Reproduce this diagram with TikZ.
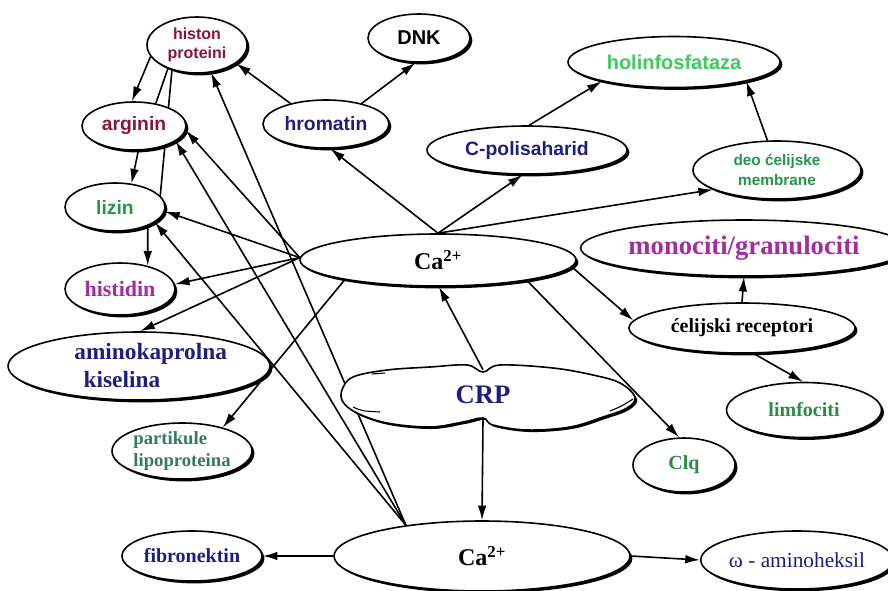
\documentclass[tikz,border=0pt]{standalone}
\usepackage{fontspec}
\setmainfont{Liberation Serif}
\setsansfont{Liberation Sans}
\usetikzlibrary{shapes.geometric,arrows.meta,shadows,backgrounds}
\definecolor{dred}{HTML}{8A1538}
\definecolor{mynavy}{HTML}{1E1E82}
\definecolor{hgreen}{HTML}{3CCB5C}
\definecolor{dgreen}{HTML}{24964A}
\definecolor{mgreen}{HTML}{2A8C45}
\definecolor{purp}{HTML}{A22CA2}
\definecolor{teal2}{HTML}{357A60}
\newcommand{\myfs}[2]{\fontsize{#1}{#2}\selectfont}
\begin{document}
\begin{tikzpicture}[x=0.75pt,y=-0.75pt,
  el/.style 2 args={ellipse, draw=black, line width=1.2pt, fill=white, inner sep=0pt,
    minimum width=#1*0.75pt, minimum height=#2*0.75pt,
    drop shadow={shadow xshift=1.8pt, shadow yshift=-1.8pt, fill=black, opacity=1}},
  sfb/.style={font=\sffamily\bfseries\myfs{#1}{#1}},
  rmb/.style={font=\rmfamily\bfseries\myfs{#1}{#1}},
  arr/.style={-{Latex[length=11pt,width=6.5pt]}, line width=1.2pt},
  ln/.style={line width=1.2pt}]
\useasboundingbox (0,0) rectangle (888,590);

% nodes
\node[el={100}{56}, text=dred, font=\sffamily\bfseries\myfs{12}{14}, align=center] (hist) at (197,45) {histon\\proteini};
\node[el={102}{48}, sfb=15] (dnk) at (419,38) {DNK};
\node[el={212}{51}, text=hgreen, sfb=15] (holin) at (674,62) {holinfosfataza};
\node[el={104}{48}, text=dred, sfb=14.5] (arg) at (134,126) {arginin};
\node[el={126}{48}, text=mynavy, sfb=14.5] (hrom) at (326,124) {hromatin};
\node[el={200}{48}, text=mynavy, sfb=14.5] (cpol) at (527,150) {C-polisaharid};
\node[el={168}{58}, text=dgreen, font=\sffamily\bfseries\myfs{11.5}{15}, align=center] (deo) at (777,170) {deo ćelijske\\membrane};
\node[el={100}{48}, text=dgreen, sfb=14.5] (liz) at (115,207) {lizin};
\node[el={276}{52}, rmb=18] (cau) at (438,260) {Ca\textsuperscript{2+}};
\node[el={288}{56}, text=purp, rmb=20] (mono) at (744,248) {monociti/granulociti};
\node[el={110}{52}, text=purp, rmb=16.5] (hisd) at (120,289) {histidin};
\node[el={226}{50}, rmb=15] (celr) at (742,328) {ćelijski receptori};
\node[el={262}{68}, text=mynavy, font=\rmfamily\bfseries\myfs{17.5}{21}, align=left] (amk) at (139,366) {\hspace*{1em}aminokaprolna\\\hspace*{1.4em}kiselina};
\node[el={155}{55}, text=mgreen, rmb=15] (limf) at (804,410) {limfociti};
\node[el={140}{52}, text=teal2, font=\rmfamily\bfseries\myfs{14}{17}, align=left] (part) at (182,451) {partikule\\lipoproteina};
\node[el={102}{54}, text=mgreen, rmb=15] (clq) at (684,465) {Clq};
\node[el={296}{70}, rmb=18] (cal) at (482,556) {Ca\textsuperscript{2+}};
\node[el={140}{50}, text=mynavy, rmb=15] (fib) at (192,556) {fibronektin};
\node[el={180}{58}, text=mynavy, font=\rmfamily\myfs{16}{16}] (omega) at (797,560) {ω - aminoheksil};

% CRP cloud
\draw[line width=1.2pt, fill=white, drop shadow={shadow xshift=1.5pt, shadow yshift=-1.5pt, fill=black, opacity=1}]
  plot[smooth cycle, tension=0.6] coordinates {
  (342,390) (353,377) (387,370) (430,367) (467,365) (483,372) (500,365)
  (553,368) (593,375) (620,383) (635,397) (627,408) (603,417) (570,427)
  (527,430) (493,425) (483,418) (463,422) (430,427) (387,423) (357,413) (343,402)};
\draw[line width=0.8pt] (353,407) .. controls (362,411) .. (380,412);
\draw[line width=0.8pt] (372,374) -- (385,373);
\draw[line width=0.8pt] (610,411) .. controls (622,406) .. (633,399);
\node[ellipse, minimum width=294*0.75pt, minimum height=50*0.75pt, inner sep=0pt,
  text=mynavy, rmb=20] (crp) at (483,395) {CRP};

% edges
\begin{scope}[on background layer]
\draw[arr] (hist.194) -- (arg.95);
\draw[ln] (hist.219) -- (arg.46);
\draw[ln] (hist.225) -- (liz.14);
\draw[arr] (arg.280) -- (liz.55);
\draw[arr] (liz.330) -- (hisd.40);
\draw[arr] (hrom.150) -- (hist.335);
\draw[arr] (hrom.30) -- (dnk.262);
\draw[arr] (cau.north) -- (hrom.280);
\draw[arr] (cau.north) -- (cpol.260);
\draw[arr] (cau.north) -- (deo.197);
\draw[arr] (cpol.85) -- (holin.195);
\draw[arr] (deo.108) -- (holin.345);
\draw[arr] (cau.179) -- (arg.355);
\draw[arr] (cau.179) -- (liz.355);
\draw[arr] (cau.179) -- (hisd.5);
\draw[arr] (cau.179) -- (amk.88);
\draw[arr] (cau.192) -- (part.30);
\draw[arr] (cau.357) -- (celr.176);
\draw[arr] (cau.347) -- (clq.100);
\draw[arr] (crp.north) -- (cau.272);
\draw[arr] (crp.south) -- (cal.north);
\draw[arr] (celr.north) -- (mono.south);
\draw[arr] (celr.295) -- (limf.92);
\draw[arr] (cal.158) -- (hist.297);
\draw[arr] (cal.158) -- (arg.340);
\draw[arr] (cal.158) -- (liz.339);
\draw[arr] (cal.west) -- (fib.east);
\draw[arr] (cal.east) -- (omega.west);
\end{scope}
\end{tikzpicture}
\end{document}
